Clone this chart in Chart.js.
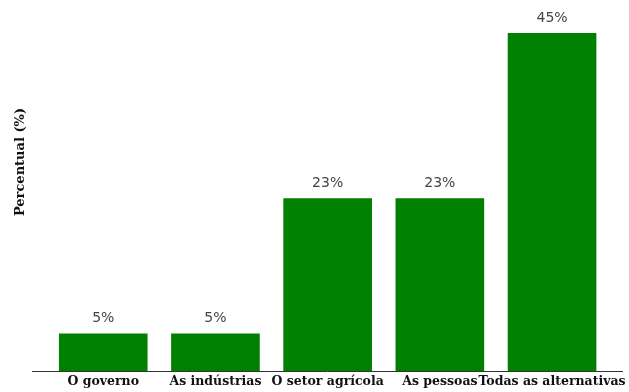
<!DOCTYPE html>
<html>
<head>
<meta charset="utf-8">
<script src="https://cdn.jsdelivr.net/npm/chart.js@4"></script>
<style>
  html, body { margin: 0; padding: 0; background: #fff; }
  #wrap { width: 629px; height: 392px; }
</style>
</head>
<body>
<div id="wrap"><canvas id="barChart"></canvas></div>
<script>
const categories = ["O governo", "As indústrias", "O setor agrícola", "As pessoas", "Todas as alternativas"];
const percentages = [5, 5, 23, 23, 45];
const yTitle = "Percentual (%)";

// y title sits off-centre in the original, so draw it by hand
const yTitlePlugin = {
  id: 'yTitle',
  afterDraw(chart) {
    const ctx = chart.ctx;
    ctx.save();
    ctx.translate(21, 162);
    ctx.rotate(-Math.PI / 2);
    ctx.font = 'bold 13px "DejaVu Serif"';
    ctx.fillStyle = '#111';
    ctx.textAlign = 'center';
    ctx.textBaseline = 'middle';
    ctx.fillText(yTitle, 0, 0);
    ctx.restore();
  }
};

const valueLabels = {
  id: 'valueLabels',
  afterDatasetsDraw(chart) {
    const ctx = chart.ctx;
    const meta = chart.getDatasetMeta(0);
    ctx.save();
    ctx.font = '14px "DejaVu Sans"';
    ctx.fillStyle = '#444';
    ctx.textAlign = 'center';
    ctx.textBaseline = 'middle';
    meta.data.forEach((bar, i) => {
      ctx.fillText(percentages[i] + '%', bar.x, bar.y - 15);
    });
    ctx.restore();
  }
};

const ctx = document.getElementById('barChart').getContext('2d');
new Chart(ctx, {
  type: 'bar',
  data: {
    datasets: [{
      data: percentages.map((v, i) => ({ x: i, y: v })),
      backgroundColor: '#008000',
      borderWidth: 0,
      categoryPercentage: 1,
      barPercentage: 0.79
    }]
  },
  options: {
    responsive: true,
    maintainAspectRatio: false,
    animation: false,
    layout: { padding: { left: 32, right: 3, top: 16, bottom: 0 } },
    plugins: {
      legend: { display: false },
      tooltip: { enabled: false }
    },
    scales: {
      x: {
        type: 'linear',
        offset: false,
        min: -0.635,
        max: 4.625,
        grid: { display: false, drawTicks: false },
        border: { display: true, color: '#333', width: 1 },
        afterBuildTicks: axis => { axis.ticks = categories.map((c, i) => ({ value: i })); },
        ticks: {
          autoSkip: false,
          maxRotation: 0,
          padding: 3,
          color: '#111',
          font: { family: '"DejaVu Serif"', weight: 'bold', size: 12.5 },
          callback: v => categories[v]
        }
      },
      y: {
        min: 0,
        max: 47.25,
        display: false
      }
    }
  },
  plugins: [valueLabels, yTitlePlugin]
});
</script>
</body>
</html>
